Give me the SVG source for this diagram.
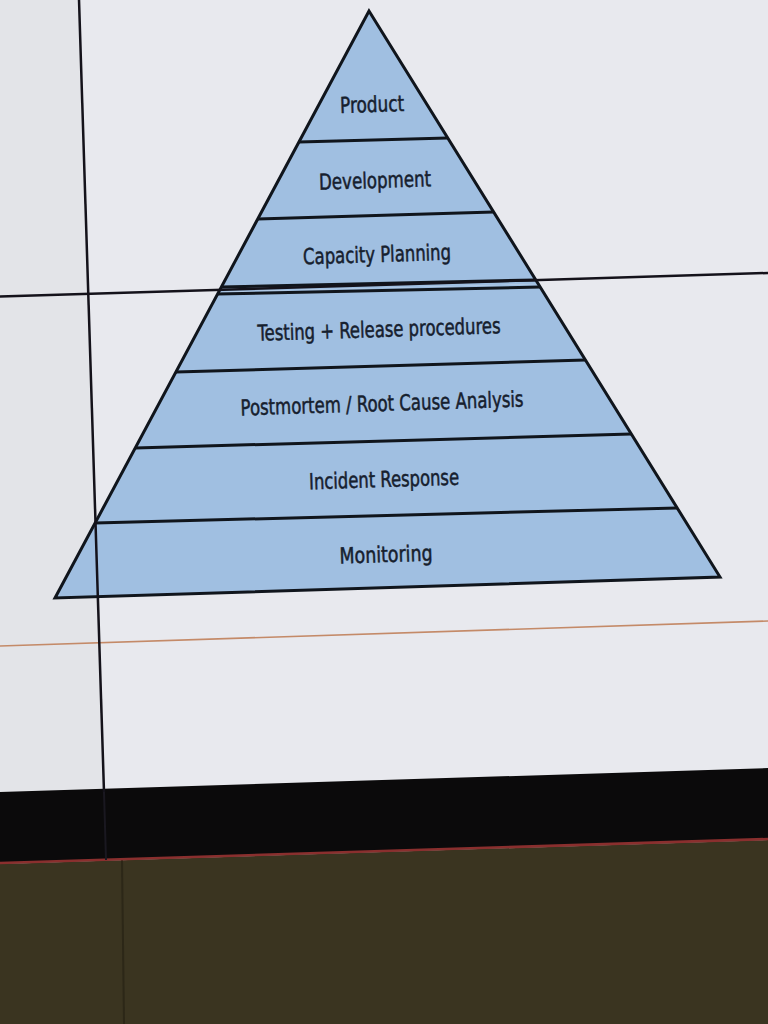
<svg xmlns="http://www.w3.org/2000/svg" width="768" height="1024" viewBox="0 0 768 1024">
  <style>
    .layer { fill: #a0bfe1; }
    .edge { stroke: #10151c; stroke-width: 3; fill: none; stroke-linejoin: miter; }
    .sep { stroke: #10151c; stroke-width: 3; }
    .label { font-family: "DejaVu Sans Condensed", "DejaVu Sans", "Liberation Sans", sans-serif; font-stretch: condensed; font-size: 22px; fill: #16202e; stroke: #16202e; stroke-width: 0.5; text-anchor: middle; font-weight: normal; }
    .seam { stroke: #14121a; stroke-width: 2.5; }
  </style>

  <!-- screen surface -->
  <polygon points="0,0 768,0 768,770 0,794" fill="#e8e9ee"/>
  <polygon points="0,0 80,0 105,790 0,794" fill="#e3e4e8"/>
  <!-- black bezel under the screen -->
  <polygon points="0,792 768,768 768,840 0,864" fill="#0b0a0b"/>
  <!-- wall below -->
  <polygon points="0,864 768,840 768,1024 0,1024" fill="#3a3420"/>
  <line x1="122" y1="860" x2="124" y2="1024" stroke="#2c2717" stroke-width="2"/>
  <line x1="0" y1="863" x2="768" y2="839" stroke="#8a2f2e" stroke-width="2.5"/>

  <!-- thin orange rule -->
  <line x1="0" y1="646" x2="768" y2="621" stroke="#c48a68" stroke-width="1.6"/>

  <!-- pyramid layers -->
  <g id="layer-product">
    <polygon class="layer" points="369,11 447.8,138 298.9,142"/>
    <text class="label" x="372" y="112" transform="rotate(-1.8 372 103)" textLength="64" lengthAdjust="spacingAndGlyphs">Product</text>
  </g>
  <g id="layer-development">
    <polygon class="layer" points="298.9,142 447.8,138 493.6,212 257.7,219"/>
    <text class="label" x="375" y="188" transform="rotate(-1.8 375 179)" textLength="112" lengthAdjust="spacingAndGlyphs">Development</text>
  </g>
  <g id="layer-capacity-planning">
    <polygon class="layer" points="257.7,219 493.6,212 538.3,284 218.7,292"/>
    <text class="label" x="377" y="262" transform="rotate(-1.8 377 253)" textLength="148" lengthAdjust="spacingAndGlyphs">Capacity Planning</text>
  </g>
  <g id="layer-testing-release">
    <polygon class="layer" points="218.7,292 538.3,284 585.4,360 175.9,372"/>
    <text class="label" x="379" y="337" transform="rotate(-1.8 379 328)" textLength="243" lengthAdjust="spacingAndGlyphs">Testing + Release procedures</text>
  </g>
  <g id="layer-postmortem">
    <polygon class="layer" points="175.9,372 585.4,360 631.3,434 135.2,448"/>
    <text class="label" x="382" y="411" transform="rotate(-1.8 382 402)" textLength="283" lengthAdjust="spacingAndGlyphs">Postmortem / Root Cause Analysis</text>
  </g>
  <g id="layer-incident-response">
    <polygon class="layer" points="135.2,448 631.3,434 677.2,508 95.1,523"/>
    <text class="label" x="384" y="487" transform="rotate(-1.8 384 478)" textLength="150" lengthAdjust="spacingAndGlyphs">Incident Response</text>
  </g>
  <g id="layer-monitoring">
    <polygon class="layer" points="95.1,523 677.2,508 720,577 55,598"/>
    <text class="label" x="386" y="562" transform="rotate(-1.8 386 553)" textLength="93" lengthAdjust="spacingAndGlyphs">Monitoring</text>
  </g>

  <!-- pyramid outline and layer dividers -->
  <g id="dividers">
    <polygon class="edge" points="369,11 720,577 55,598"/>
    <line class="sep" x1="298.9" y1="142" x2="447.8" y2="138"/>
    <line class="sep" x1="257.7" y1="219" x2="493.6" y2="212"/>
    <line class="sep" x1="221" y1="287" x2="535" y2="280"/>
    <line class="sep" x1="217" y1="294" x2="540" y2="287"/>
    <line class="sep" x1="175.9" y1="372" x2="585.4" y2="360"/>
    <line class="sep" x1="135.2" y1="448" x2="631.3" y2="434"/>
    <line class="sep" x1="95.1" y1="523" x2="677.2" y2="508"/>
  </g>

  <!-- panel seams of the display wall -->
  <line class="seam" x1="0" y1="296.5" x2="768" y2="273"/>
  <line class="seam" x1="79" y1="0" x2="104" y2="792"/>
  <line x1="104" y1="792" x2="106" y2="860" stroke="#1a1820" stroke-width="2"/>
</svg>
